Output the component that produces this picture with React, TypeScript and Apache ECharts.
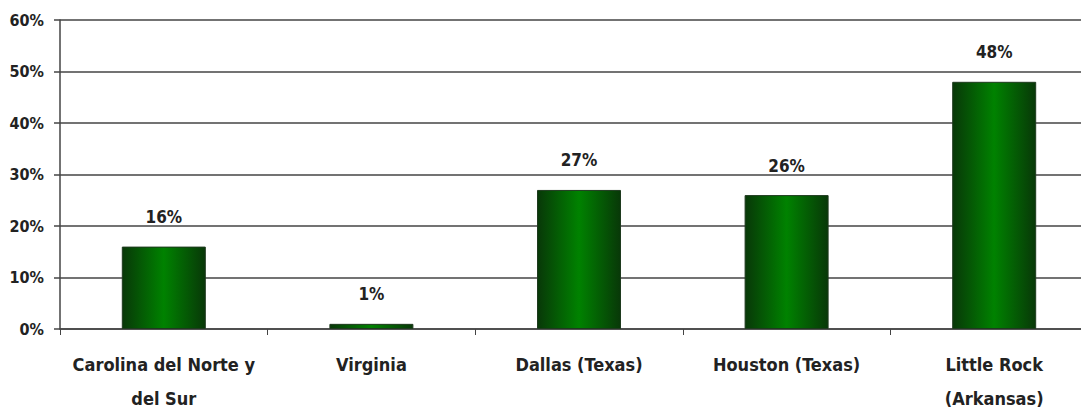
import React, { useEffect, useRef } from "react";
import * as echarts from "echarts";

const categories = [
  "Carolina del Norte y\ndel Sur",
  "Virginia",
  "Dallas (Texas)",
  "Houston (Texas)",
  "Little Rock\n(Arkansas)",
];
const values = [16, 1, 27, 26, 48];
const yTicks = { min: 0, max: 60, interval: 10 };

export default function App() {
  const ref = useRef<HTMLDivElement>(null);
  useEffect(() => {
    document.body.style.margin = "0";
    const chart = echarts.init(ref.current!, null, { renderer: "svg" });
    const font = "'DejaVu Sans Condensed', 'DejaVu Sans', sans-serif";
    chart.setOption({
      animation: false,
      backgroundColor: "#ffffff",
      grid: {
        left: 60,
        right: 0,
        top: 20,
        bottom: 82,
        containLabel: false,
        outerBoundsMode: "none",
      },
      xAxis: {
        type: "category",
        data: categories,
        axisLine: { show: true, lineStyle: { color: "#444", width: 1.5 } },
        axisTick: { show: true, length: 6, lineStyle: { color: "#444", width: 1 } },
        axisLabel: {
          color: "#222",
          fontFamily: font,
          fontWeight: "bold",
          fontSize: 18,
          lineHeight: 34,
          margin: 18,
          interval: 0,
        },
      },
      yAxis: {
        type: "value",
        min: yTicks.min,
        max: yTicks.max,
        interval: yTicks.interval,
        axisLine: { show: true, lineStyle: { color: "#444", width: 1.5 } },
        axisTick: { show: true, length: 6, lineStyle: { color: "#444", width: 1.5 } },
        splitLine: { show: true, lineStyle: { color: "#444", width: 1.5 } },
        axisLabel: {
          color: "#222",
          fontFamily: font,
          fontWeight: "bold",
          fontSize: 16,
          margin: 16,
          formatter: (v: number) => v + "%",
        },
      },
      series: [
        {
          type: "bar",
          data: values,
          barWidth: 84,
          itemStyle: {
            color: new echarts.graphic.LinearGradient(0, 0, 1, 0, [
              { offset: 0, color: "#083808" },
              { offset: 0.5, color: "#008200" },
              { offset: 1, color: "#083808" },
            ]),
            borderColor: "#1e3a1e",
            borderWidth: 1,
          },
          label: {
            show: true,
            position: "top",
            distance: 21,
            color: "#222",
            fontFamily: font,
            fontWeight: "bold",
            fontSize: 17,
            formatter: (p: any) => p.value + "%",
          },
        },
      ],
    });
    return () => chart.dispose();
  }, []);
  return (
    <div style={{ width: 1081, height: 411, overflow: "hidden", position: "relative" }}>
      <div ref={ref} style={{ width: 1098, height: 411, position: "absolute", left: 0, top: 0 }} />
    </div>
  );
}
